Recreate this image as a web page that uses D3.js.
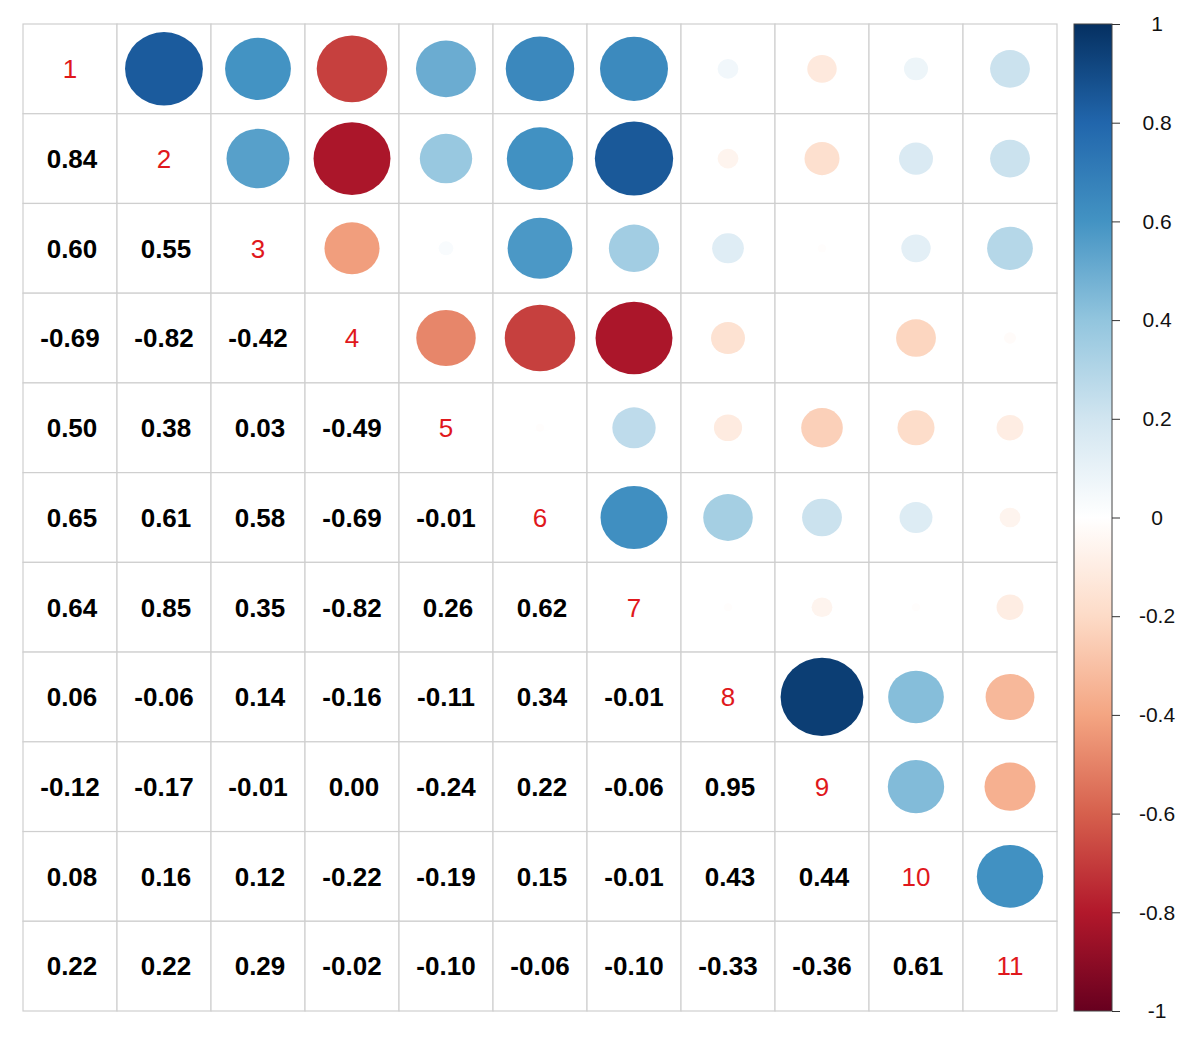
<!DOCTYPE html>
<html>
<head>
<meta charset="utf-8">
<script src="https://cdn.jsdelivr.net/npm/d3@7"></script>
<style>
  html, body { margin: 0; padding: 0; background: #fff; }
  svg { display: block; }
</style>
</head>
<body>
<svg id="chart" width="1200" height="1042"></svg>
<script>
// ---- data ----
const variables = ["1", "2", "3", "4", "5", "6", "7", "8", "9", "10", "11"];
// lower triangle of the correlation matrix, row by row (row i has i values)
const row2  = [0.84];
const row3  = [0.60, 0.55];
const row4  = [-0.69, -0.82, -0.42];
const row5  = [0.50, 0.38, 0.03, -0.49];
const row6  = [0.65, 0.61, 0.58, -0.69, -0.01];
const row7  = [0.64, 0.85, 0.35, -0.82, 0.26, 0.62];
const row8  = [0.06, -0.06, 0.14, -0.16, -0.11, 0.34, -0.01];
const row9  = [-0.12, -0.17, -0.01, 0.00, -0.24, 0.22, -0.06, 0.95];
const row10 = [0.08, 0.16, 0.12, -0.22, -0.19, 0.15, -0.01, 0.43, 0.44];
const row11 = [0.22, 0.22, 0.29, -0.02, -0.10, -0.06, -0.10, -0.33, -0.36, 0.61];
const lowerRows = [[], row2, row3, row4, row5, row6, row7, row8, row9, row10, row11];

const legendTicks = [1, 0.8, 0.6, 0.4, 0.2, 0, -0.2, -0.4, -0.6, -0.8, -1];
const paletteStops = ["#67001F","#B2182B","#D6604D","#F4A582","#FDDBC7","#FFFFFF",
                      "#D1E5F0","#92C5DE","#4393C3","#2166AC","#053061"];

// ---- build matrix ----
const n = variables.length;
const cells = [];
for (let i = 0; i < n; i++) {
  for (let j = 0; j < n; j++) {
    let v;
    if (i === j) v = 1;
    else if (j < i) v = lowerRows[i][j];
    else v = lowerRows[j][i];
    cells.push({ row: variables[i], col: variables[j], i, j, v });
  }
}

// ---- layout ----
const svg = d3.select("#chart");
const gridLeft = 23, gridRight = 1057, gridTop = 24, gridBottom = 1011;

const x = d3.scaleBand().domain(variables).range([gridLeft, gridRight]);
const y = d3.scaleBand().domain(variables).range([gridTop, gridBottom]);

const color = d3.scaleLinear()
  .domain(d3.range(11).map(k => -1 + k * 0.2))
  .range(paletteStops)
  .interpolate(d3.interpolateRgb)
  .clamp(true);

const rx = d3.scaleSqrt().domain([0, 1]).range([0, 0.452 * x.bandwidth()]);
const ry = d3.scaleSqrt().domain([0, 1]).range([0, 0.447 * y.bandwidth()]);

const fontFamily = "'Liberation Sans', Arial, Helvetica, sans-serif";

// grid cells
svg.append("g")
  .selectAll("rect")
  .data(cells)
  .join("rect")
  .attr("x", d => x(d.col))
  .attr("y", d => y(d.row))
  .attr("width", x.bandwidth())
  .attr("height", y.bandwidth())
  .attr("fill", "#fff")
  .attr("stroke", "#cfcfcf")
  .attr("stroke-width", 1.2);

// upper triangle circles
svg.append("g")
  .selectAll("ellipse")
  .data(cells.filter(d => d.j > d.i && Math.abs(d.v) > 0))
  .join("ellipse")
  .attr("cx", d => x(d.col) + x.bandwidth() / 2)
  .attr("cy", d => y(d.row) + y.bandwidth() / 2)
  .attr("rx", d => rx(Math.abs(d.v)))
  .attr("ry", d => ry(Math.abs(d.v)))
  .attr("fill", d => color(d.v));

// lower triangle numbers
svg.append("g")
  .selectAll("text")
  .data(cells.filter(d => d.j < d.i))
  .join("text")
  .attr("x", d => x(d.col) + x.bandwidth() / 2 + (d.v >= 0 ? 2 : 0))
  .attr("y", d => y(d.row) + y.bandwidth() / 2)
  .attr("dy", "0.36em")
  .attr("text-anchor", "middle")
  .attr("font-family", fontFamily)
  .attr("font-weight", "bold")
  .attr("font-size", 26)
  .attr("fill", "#000")
  .text(d => d.v.toFixed(2));

// diagonal labels
svg.append("g")
  .selectAll("text")
  .data(cells.filter(d => d.j === d.i))
  .join("text")
  .attr("x", d => x(d.col) + x.bandwidth() / 2)
  .attr("y", d => y(d.row) + y.bandwidth() / 2)
  .attr("dy", "0.36em")
  .attr("text-anchor", "middle")
  .attr("font-family", fontFamily)
  .attr("font-size", 26)
  .attr("fill", "#e0181c")
  .text(d => d.row);

// ---- colour legend ----
const legX0 = 1074, legX1 = 1112;
const ly = d3.scaleLinear().domain([-1, 1]).range([gridBottom, gridTop]);

const defs = svg.append("defs");
const grad = defs.append("linearGradient")
  .attr("id", "legendGrad")
  .attr("x1", 0).attr("y1", 1).attr("x2", 0).attr("y2", 0);
grad.selectAll("stop")
  .data(paletteStops)
  .join("stop")
  .attr("offset", (d, k) => k / (paletteStops.length - 1))
  .attr("stop-color", d => d);

svg.append("rect")
  .attr("x", legX0)
  .attr("y", ly(1))
  .attr("width", legX1 - legX0)
  .attr("height", ly(-1) - ly(1))
  .attr("fill", "url(#legendGrad)")
  .attr("stroke", "#444")
  .attr("stroke-width", 1);

const legAxis = d3.axisRight(ly)
  .tickValues(legendTicks)
  .tickSize(8)
  .tickPadding(0)
  .tickFormat(v => String(+v.toFixed(1)));

const ax = svg.append("g")
  .attr("transform", `translate(${legX1},0)`)
  .call(legAxis);
ax.select(".domain").remove();
ax.selectAll(".tick line").attr("stroke", "#333").attr("stroke-width", 1);
ax.selectAll(".tick text")
  .attr("x", 1157 - legX1)
  .attr("text-anchor", "middle")
  .attr("font-family", fontFamily)
  .attr("font-size", 21)
  .attr("fill", "#111");
</script>
</body>
</html>
